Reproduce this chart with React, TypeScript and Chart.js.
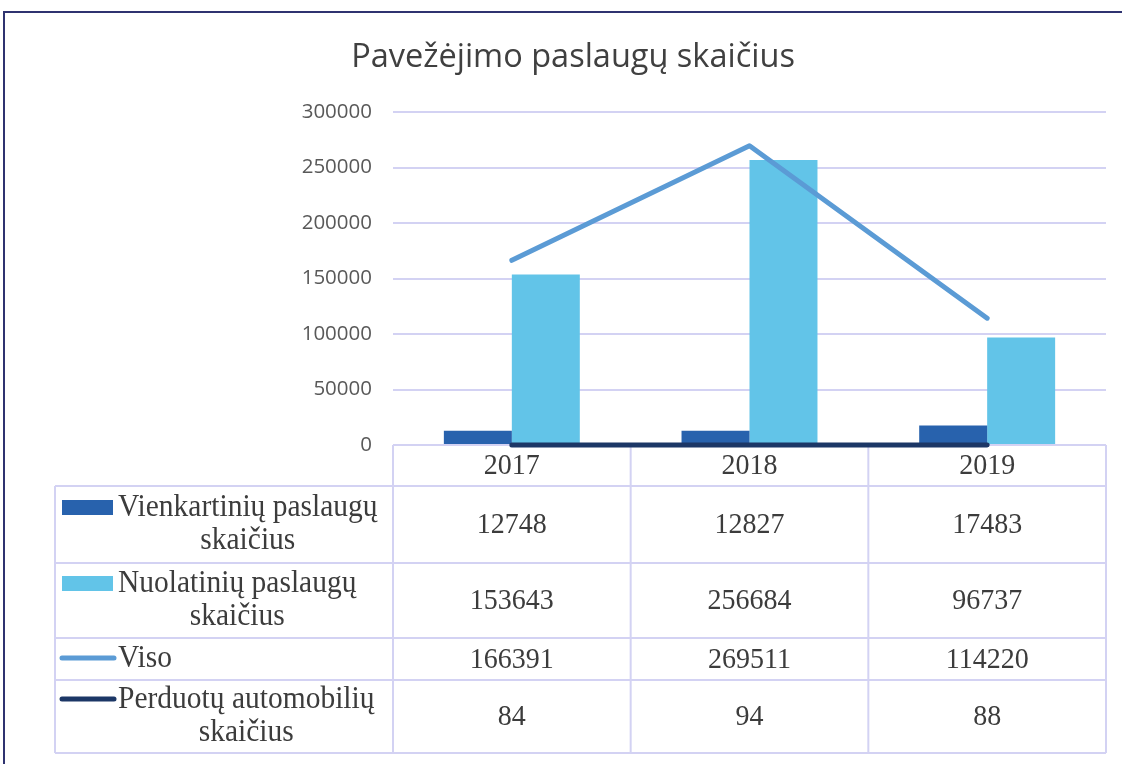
import React, { useEffect, useRef } from 'react';
import { Chart, registerables } from 'chart.js';

Chart.register(...registerables);

const TITLE = 'Pavežėjimo paslaugų skaičius';
const categories = ['2017', '2018', '2019'];
const seriesLabels = [
  'Vienkartinių paslaugų skaičius',
  'Nuolatinių paslaugų skaičius',
  'Viso',
  'Perduotų automobilių skaičius',
];
const vienkartiniu = [12748, 12827, 17483];
const nuolatiniu = [153643, 256684, 96737];
const viso = [166391, 269511, 114220];
const perduotu = [84, 94, 88];
const Y_MIN = 0;
const Y_MAX = 300000;
const Y_STEP = 50000;

const GRID = '#d3d2f3';
const TEXT = '#3c3c3c';
const FRAME = '#2f3370';
const SY = 1.07;

function stretchedText(ctx: any, text: string, x: number, y: number) {
  ctx.save();
  ctx.translate(x, y);
  ctx.scale(1, SY);
  ctx.fillText(text, 0, 0);
  ctx.restore();
}

const tablePlugin = {
  id: 'dataTable',
  beforeDatasetsDraw(chart: any) {
    const { ctx, chartArea } = chart;
    const left = chartArea.left;
    const right = chartArea.right;
    const top = chartArea.bottom;
    const n = categories.length;
    const colW = (right - left) / n;
    const labelLeft = 55;
    const rowH = [41, 77, 75, 42, 73];
    const ys: number[] = [top];
    rowH.forEach((h) => ys.push(ys[ys.length - 1] + h));
    const bottom = ys[ys.length - 1];

    ctx.save();
    ctx.strokeStyle = GRID;
    ctx.lineWidth = 2;
    ctx.beginPath();
    ys.forEach((y, i) => {
      ctx.moveTo(i === 0 ? left : labelLeft, y);
      ctx.lineTo(right, y);
    });
    for (let c = 0; c <= n; c++) {
      const x = left + c * colW;
      ctx.moveTo(x, top);
      ctx.lineTo(x, bottom);
    }
    ctx.moveTo(labelLeft, ys[1]);
    ctx.lineTo(labelLeft, bottom);
    ctx.stroke();

    ctx.font = '28px "Liberation Serif"';
    ctx.fillStyle = TEXT;
    ctx.textAlign = 'center';
    ctx.textBaseline = 'middle';
    categories.forEach((c, i) => stretchedText(ctx, c, left + colW * (i + 0.5), (ys[0] + ys[1]) / 2 + 1));

    chart.data.datasets.forEach((ds: any, r: number) => {
      const cy = (ys[r + 1] + ys[r + 2]) / 2;
      ctx.fillStyle = TEXT;
      ctx.font = '28px "Liberation Serif"';
      ds.data.forEach((v: number, i: number) => stretchedText(ctx, String(v), left + colW * (i + 0.5), cy + 1));
      ctx.font = '29.5px "Liberation Serif"';
      const words = String(ds.label).split(' ');
      const lines = words.length > 1 ? [words.slice(0, -1).join(' '), words[words.length - 1]] : [ds.label];
      const lh = 33;
      const textLeft = 118;
      const maxW = Math.max(...lines.map((l: string) => ctx.measureText(l).width));
      const firstY = cy - ((lines.length - 1) * lh) / 2;
      lines.forEach((l: string, k: number) => stretchedText(ctx, l, textLeft + maxW / 2, firstY + k * lh));
      const sy = firstY - 1;
      if (ds.type === 'line') {
        ctx.strokeStyle = ds.borderColor;
        ctx.lineWidth = 5;
        ctx.lineCap = 'round';
        ctx.beginPath();
        ctx.moveTo(62, sy);
        ctx.lineTo(114, sy);
        ctx.stroke();
      } else {
        ctx.fillStyle = ds.backgroundColor;
        ctx.fillRect(62, sy - 7, 51, 15);
      }
    });
    ctx.restore();
  },
  afterDraw(chart: any) {
    const { ctx } = chart;
    ctx.save();
    ctx.font = '32.5px "Open Sans"';
    ctx.fillStyle = '#404040';
    ctx.textAlign = 'center';
    ctx.textBaseline = 'middle';
    ctx.fillText(TITLE, 573, 58);
    ctx.strokeStyle = FRAME;
    ctx.lineWidth = 2;
    ctx.beginPath();
    ctx.moveTo(4, 764);
    ctx.lineTo(4, 12);
    ctx.lineTo(1122, 12);
    ctx.stroke();
    ctx.restore();
  },
};

export default function App() {
  const ref = useRef<HTMLCanvasElement | null>(null);
  useEffect(() => {
    if (!ref.current) return;
    const chart = new Chart(ref.current, {
      type: 'bar',
      data: {
        labels: categories,
        datasets: [
          {
            type: 'bar',
            label: seriesLabels[0],
            data: vienkartiniu,
            backgroundColor: '#2862ad',
            categoryPercentage: 0.572,
            barPercentage: 1,
            order: 2,
          } as any,
          {
            type: 'bar',
            label: seriesLabels[1],
            data: nuolatiniu,
            backgroundColor: '#62c4e8',
            categoryPercentage: 0.572,
            barPercentage: 1,
            order: 2,
          } as any,
          {
            type: 'line',
            label: seriesLabels[2],
            data: viso,
            borderColor: '#5b9bd5',
            backgroundColor: '#5b9bd5',
            borderWidth: 5,
            pointRadius: 0,
            borderCapStyle: 'round',
            borderJoinStyle: 'round',
            tension: 0,
            clip: false,
            order: 0,
          } as any,
          {
            type: 'line',
            label: seriesLabels[3],
            data: perduotu,
            borderColor: '#1c3766',
            backgroundColor: '#1c3766',
            borderWidth: 5,
            pointRadius: 0,
            borderCapStyle: 'round',
            tension: 0,
            clip: false,
            order: 1,
          } as any,
        ],
      },
      options: {
        responsive: false,
        animation: false,
        layout: { padding: { top: 112, right: 16, bottom: 319, left: 0 } },
        plugins: {
          legend: { display: false },
          title: { display: false },
          tooltip: { enabled: false },
        },
        scales: {
          x: { display: false, offset: true },
          y: {
            min: Y_MIN,
            max: Y_MAX,
            ticks: {
              stepSize: Y_STEP,
              padding: 21,
              color: '#595959',
              font: { family: 'Open Sans', size: 20.5 },
              callback: (v: any) => String(v),
            },
            grid: { color: GRID, lineWidth: 2, drawTicks: false },
            border: { display: false },
            afterFit: (s: any) => {
              s.width = 393;
            },
          },
        },
      },
      plugins: [tablePlugin],
    });
    return () => chart.destroy();
  }, []);
  return (
    <div style={{ position: 'fixed', left: 0, top: 0, width: 1122, height: 764, overflow: 'hidden', background: '#fff' }}>
      <canvas ref={ref} width={1122} height={764} style={{ display: 'block' }} />
    </div>
  );
}
